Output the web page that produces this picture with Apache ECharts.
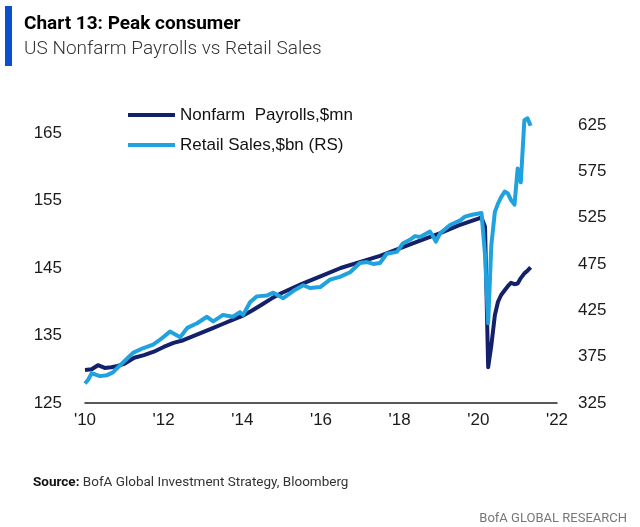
<!DOCTYPE html>
<html>
<head>
<meta charset="utf-8">
<script src="https://cdn.jsdelivr.net/npm/echarts@6/dist/echarts.min.js"></script>
<style>
  html, body { margin: 0; padding: 0; background: #fff; }
  #chart { width: 640px; height: 527px; }
</style>
</head>
<body>
<div id="chart"></div>
<script>
// time as decimal year (Jan = .0)
var payrollTime = [2010.0, 2010.17, 2010.33, 2010.5, 2010.67, 2010.83, 2011.0, 2011.25, 2011.5, 2011.75,
    2012.0, 2012.25, 2012.5, 2012.75, 2013.0, 2013.25, 2013.5, 2013.75, 2014.0, 2014.25, 2014.5, 2014.75,
    2015.0, 2015.5, 2016.0, 2016.5, 2017.0, 2017.5, 2018.0, 2018.5, 2019.0, 2019.5, 2020.0, 2020.08,
    2020.17, 2020.25, 2020.33, 2020.42, 2020.5, 2020.58, 2020.67, 2020.75, 2020.83, 2020.92,
    2021.0, 2021.08, 2021.17, 2021.25, 2021.33];
var payrollValue = [129.9, 130.0, 130.6, 130.2, 130.3, 130.5, 130.8, 131.7, 132.1, 132.6,
    133.3, 133.9, 134.3, 134.9, 135.5, 136.1, 136.7, 137.3, 137.9, 138.7, 139.6, 140.5,
    141.3, 142.6, 143.8, 145.0, 145.9, 146.8, 147.9, 149.0, 150.1, 151.3, 152.3, 152.5,
    151.1, 130.3, 133.5, 138.0, 140.0, 141.0, 141.7, 142.3, 142.8, 142.6,
    142.7, 143.5, 144.2, 144.6, 145.1];

var retailTime = [2010.0, 2010.08, 2010.17, 2010.25, 2010.38, 2010.56, 2010.71, 2010.85, 2011.0, 2011.22,
    2011.47, 2011.73, 2011.9, 2012.16, 2012.42, 2012.6, 2012.85, 2013.1, 2013.26, 2013.51, 2013.76,
    2013.94, 2014.02, 2014.2, 2014.37, 2014.63, 2014.79, 2015.04, 2015.3, 2015.55, 2015.72, 2015.98,
    2016.23, 2016.48, 2016.74, 2016.99, 2017.17, 2017.33, 2017.5, 2017.67, 2017.93, 2018.08, 2018.26,
    2018.39, 2018.52, 2018.77, 2018.86, 2018.92, 2019.03, 2019.28, 2019.54, 2019.66, 2019.84, 2020.08,
    2020.17, 2020.25, 2020.33, 2020.42, 2020.5, 2020.58, 2020.67, 2020.75, 2020.83, 2020.92,
    2021.0, 2021.08, 2021.17, 2021.25, 2021.33];
var retailValue = [346, 350, 357, 356, 354, 355, 358, 364, 370, 379,
    384, 388, 393, 402, 396, 406, 411, 418, 413, 420, 418,
    423, 420, 434, 440, 441, 444, 438, 446, 452, 449, 450,
    458, 461, 466, 476, 477, 475, 476, 486, 488, 497, 501,
    505, 504, 510, 504, 499, 508, 517, 522, 526, 528, 530,
    485, 411, 495, 531, 540, 547, 553, 551, 544, 539,
    578, 563, 630, 632, 624];

var seriesNames = ['Nonfarm  Payrolls,$mn', 'Retail Sales,$bn (RS)'];
var seriesColors = ['#13216a', '#1fa2de'];

function zip (xs, ys) {
    return xs.map(function (x, i) { return [x, ys[i]]; });
}

// only label the regular ticks, not the padded axis max
function tickOnly (step, base) {
    return function (v) {
        var k = (v - base) / step;
        return Math.abs(k - Math.round(k)) < 1e-6 ? String(Math.round(v)) : '';
    };
}

var chartobj = echarts.init(document.getElementById('chart'));
var axisFont = { fontFamily: 'Liberation Sans', fontSize: 17, color: '#1a1a1a' };

var option = {
    animation: false,
    title: {
        text: 'Chart 13: Peak consumer',
        subtext: 'US Nonfarm Payrolls vs Retail Sales',
        left: 19,
        top: 10,
        itemGap: 6,
        textStyle: { fontFamily: 'Roboto', fontWeight: 'bold', fontSize: 19, color: '#000' },
        subtextStyle: { fontFamily: 'Roboto', fontWeight: 300, fontSize: 19, color: '#333' }
    },
    graphic: [
        { type: 'rect', shape: { x: 5, y: 6, width: 7, height: 60 }, style: { fill: '#0a50cc' } },
        {
            type: 'text', left: 33, top: 476,
            style: {
                text: '{b|Source:} BofA Global Investment Strategy, Bloomberg',
                rich: { b: { fontWeight: 'bold', fontFamily: 'Roboto', fontSize: 13.5, fill: '#111' } },
                fontFamily: 'Roboto', fontSize: 13.5, fill: '#333'
            }
        },
        {
            type: 'text', right: 13, top: 512,
            style: { text: 'BofA GLOBAL RESEARCH', fontFamily: 'Roboto', fontSize: 13, fill: '#777' }
        }
    ],
    legend: {
        orient: 'vertical',
        left: 123,
        top: 100,
        itemWidth: 47,
        itemHeight: 4,
        itemGap: 10,
        icon: 'rect',
        textStyle: { fontFamily: 'Liberation Sans', fontSize: 17, color: '#111', lineHeight: 20 },
        data: seriesNames
    },
    grid: { left: 85, right: 83, top: 110, bottom: 124 },
    xAxis: {
        type: 'value',
        min: 2010,
        max: 2022,
        interval: 2,
        splitLine: { show: false },
        axisTick: { show: false },
        axisLine: { onZero: false, lineStyle: { color: '#222', width: 1.5 } },
        axisLabel: Object.assign({
            margin: 9,
            formatter: function (v) { return "'" + String(v).slice(2); }
        }, axisFont)
    },
    yAxis: [
        {
            type: 'value',
            min: 125,
            max: 168.4,
            interval: 10,
            splitLine: { show: false },
            axisLine: { show: false },
            axisTick: { show: false },
            axisLabel: Object.assign({ margin: 23, formatter: tickOnly(10, 125) }, axisFont)
        },
        {
            type: 'value',
            min: 325,
            max: 641,
            interval: 50,
            splitLine: { show: false },
            axisLine: { show: false },
            axisTick: { show: false },
            axisLabel: Object.assign({ margin: 21, formatter: tickOnly(50, 325) }, axisFont)
        }
    ],
    series: [
        {
            name: seriesNames[0],
            type: 'line',
            yAxisIndex: 0,
            showSymbol: false,
            data: zip(payrollTime, payrollValue),
            itemStyle: { color: seriesColors[0] },
            lineStyle: { color: seriesColors[0], width: 4, join: 'round' }
        },
        {
            name: seriesNames[1],
            type: 'line',
            yAxisIndex: 1,
            showSymbol: false,
            data: zip(retailTime, retailValue),
            itemStyle: { color: seriesColors[1] },
            lineStyle: { color: seriesColors[1], width: 4, join: 'round' }
        }
    ]
};
chartobj.setOption(option);
</script>
</body>
</html>
